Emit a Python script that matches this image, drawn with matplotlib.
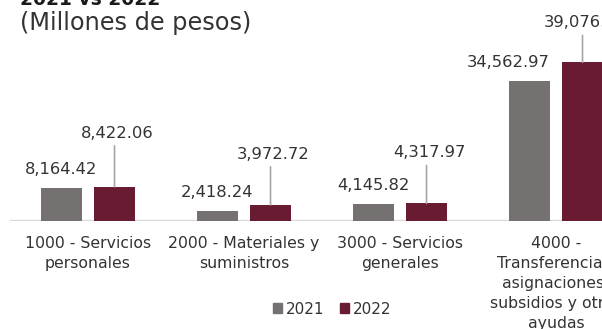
import matplotlib.pyplot as plt
from matplotlib.patches import Patch
import numpy as np

categories = ["1000 - Servicios\npersonales",
              "2000 - Materiales y\nsuministros",
              "3000 - Servicios\ngenerales",
              "4000 -\nTransferencias,\nasignaciones,\nsubsidios y otras\nayudas"]
v2021 = [8164.42, 2418.24, 4145.82, 34562.97]
v2022 = [8422.06, 3972.72, 4317.97, 39076.12]

GRAY = "#767171"
MAROON = "#691B31"
TXT = "#333333"

plt.rcParams["font.family"] = "DejaVu Sans"

W, H = 602, 329
fig = plt.figure(figsize=(W / 100, H / 100), dpi=100)
ax = fig.add_axes([10 / W, (H - 221) / H, 624 / W, 203 / H])

x = np.arange(len(categories))
bw = 0.263
off = 0.17
ax.bar(x - off, v2021, bw, color=GRAY, zorder=2)
ax.bar(x + off, v2022, bw, color=MAROON, zorder=2)

ax.set_xlim(-0.5, 3.5)
ax.set_ylim(0, 50000)
for s in ax.spines.values():
    s.set_visible(False)
ax.axhline(0, color="#D9D9D9", lw=2.5, zorder=1)
ax.set_yticks([])
ax.set_xticks(x)
ax.set_xticklabels(categories, fontsize=11.3, color=TXT, linespacing=1.42)
ax.tick_params(axis="x", length=0, pad=11)

# 2021 labels sit right above the bars
dx21 = [0, 0, 0, -21]
for i, v in enumerate(v2021):
    ax.annotate(f"{v:,.2f}", xy=(x[i] - off, v), xytext=(dx21[i], 14),
                textcoords="offset pixels", ha="center", va="baseline",
                fontsize=11.8, color=TXT)

# 2022 labels are lifted with a leader line
lift = [49, 46, 46, 35]
for i, v in enumerate(v2022):
    ax.annotate("", xy=(x[i] + off, v), xytext=(0, lift[i] - 8),
                textcoords="offset pixels",
                arrowprops=dict(arrowstyle="-", color="#A6A6A6", lw=1.2,
                                shrinkA=0, shrinkB=0))
    ax.annotate(f"{v:,.2f}", xy=(x[i] + off, v), xytext=(3, lift[i]),
                textcoords="offset pixels", ha="center", va="baseline",
                fontsize=11.8, color=TXT)

fig.text(20 / W, 1 - 5 / H, "2021 vs 2022", fontsize=13.5, weight="bold",
         color="#1a1a1a", va="baseline")
fig.text(20 / W, 1 - 30 / H, "(Millones de pesos)", fontsize=17.3,
         color=TXT, va="baseline")

handles = [Patch(color=GRAY, label="2021"), Patch(color=MAROON, label="2022")]
fig.legend(handles=handles, loc="center", bbox_to_anchor=(332 / W, 1 - 309 / H),
           ncol=2, frameon=False, fontsize=11, handlelength=0.6,
           handleheight=0.6, handletextpad=0.25, columnspacing=1.0,
           labelcolor=TXT)

fig.savefig("out.png", dpi=100)
